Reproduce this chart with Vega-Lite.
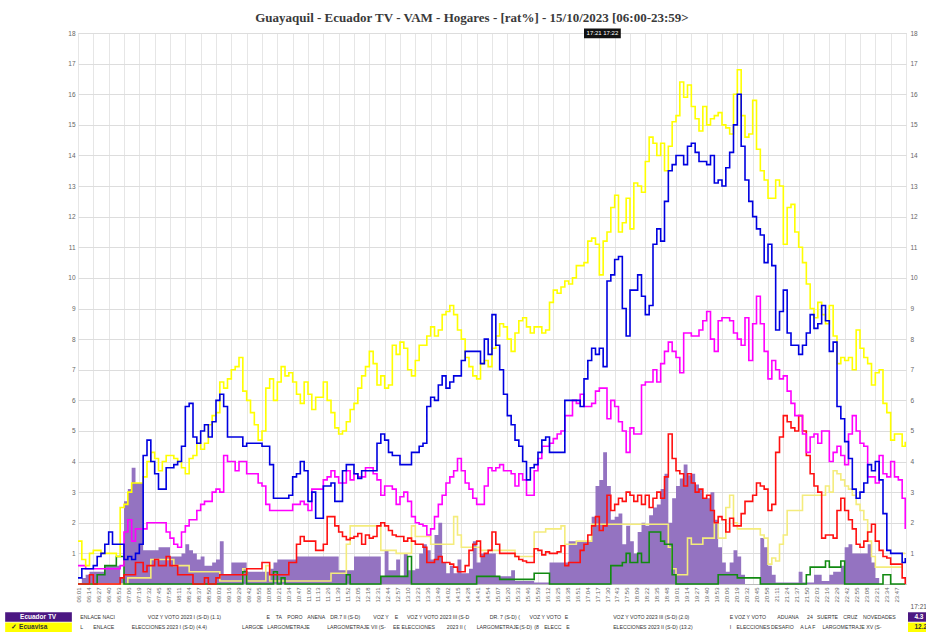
{
  "$schema": "https://vega.github.io/schema/vega-lite/v6.json",
  "width": 828,
  "height": 551,
  "autosize": {"type": "none"},
  "padding": {"left": 78, "top": 33, "right": 20, "bottom": 48},
  "background": "white",
  "title": {
    "text": "Guayaquil - Ecuador TV - VAM - Hogares - [rat%] - 15/10/2023 [06:00-23:59>",
    "font": "Liberation Serif",
    "fontSize": 13,
    "fontWeight": "bold",
    "color": "#3a3a3a",
    "anchor": "middle",
    "dx": -20,
    "offset": 3
  },
  "config": {
    "view": {"stroke": "#cfcfcf"},
    "font": "Liberation Sans"
  },
  "datasets": {
    "rating": [
      {"min":360,"Ecuavisa":1.4,"azul":0.2,"magenta":0.6,"rojo":0,"verde":0,"crema":0,"Ecuador TV":0},
      {"min":365,"Ecuavisa":0.8,"azul":0.5,"magenta":0.6,"rojo":0,"verde":0,"crema":0,"Ecuador TV":0.2},
      {"min":370,"Ecuavisa":0.6,"azul":0.5,"magenta":0.5,"rojo":0,"verde":0,"crema":0,"Ecuador TV":0.3},
      {"min":375,"Ecuavisa":1.0,"azul":0.5,"magenta":0.5,"rojo":0.3,"verde":0,"crema":0,"Ecuador TV":0.4},
      {"min":380,"Ecuavisa":1.1,"azul":0.6,"magenta":0.5,"rojo":0,"verde":0,"crema":0,"Ecuador TV":0.4},
      {"min":385,"Ecuavisa":1.1,"azul":0.9,"magenta":0.5,"rojo":0,"verde":0.3,"crema":0,"Ecuador TV":0.4},
      {"min":390,"Ecuavisa":1.0,"azul":1.0,"magenta":0.5,"rojo":0,"verde":0.3,"crema":0,"Ecuador TV":0.4},
      {"min":395,"Ecuavisa":1.0,"azul":1.3,"magenta":0.5,"rojo":0,"verde":0.6,"crema":0,"Ecuador TV":0.6},
      {"min":400,"Ecuavisa":1.0,"azul":1.7,"magenta":0.5,"rojo":0,"verde":0.6,"crema":0,"Ecuador TV":0.6},
      {"min":405,"Ecuavisa":1.0,"azul":1.3,"magenta":0.5,"rojo":0,"verde":0.6,"crema":0,"Ecuador TV":0.6},
      {"min":410,"Ecuavisa":0.9,"azul":1.3,"magenta":0.5,"rojo":0,"verde":0.9,"crema":0,"Ecuador TV":0.6},
      {"min":415,"Ecuavisa":2.5,"azul":1.3,"magenta":0.6,"rojo":0.2,"verde":0.9,"crema":0,"Ecuador TV":0.2},
      {"min":420,"Ecuavisa":2.6,"azul":0.8,"magenta":1.7,"rojo":0.3,"verde":0,"crema":0,"Ecuador TV":2.7},
      {"min":425,"Ecuavisa":3.0,"azul":0.9,"magenta":2.1,"rojo":0.3,"verde":0,"crema":0.2,"Ecuador TV":3.1},
      {"min":430,"Ecuavisa":3.3,"azul":0.8,"magenta":1.4,"rojo":0.3,"verde":0,"crema":0.2,"Ecuador TV":3.8},
      {"min":435,"Ecuavisa":3.3,"azul":1.0,"magenta":1.8,"rojo":0.7,"verde":0,"crema":0.2,"Ecuador TV":3.3},
      {"min":440,"Ecuavisa":3.3,"azul":1.3,"magenta":1.8,"rojo":0.7,"verde":0,"crema":0.2,"Ecuador TV":3.3},
      {"min":445,"Ecuavisa":3.5,"azul":4.2,"magenta":1.8,"rojo":0.4,"verde":0,"crema":0.2,"Ecuador TV":1.1},
      {"min":450,"Ecuavisa":4.0,"azul":4.7,"magenta":2.0,"rojo":0.6,"verde":0,"crema":0.2,"Ecuador TV":1.1},
      {"min":455,"Ecuavisa":4.3,"azul":4.0,"magenta":2.0,"rojo":0.6,"verde":0,"crema":0.8,"Ecuador TV":1.1},
      {"min":460,"Ecuavisa":4.1,"azul":3.6,"magenta":2.0,"rojo":0.8,"verde":0,"crema":0.8,"Ecuador TV":1.1},
      {"min":465,"Ecuavisa":3.7,"azul":3.1,"magenta":2.0,"rojo":0.6,"verde":0,"crema":0.8,"Ecuador TV":1.2},
      {"min":470,"Ecuavisa":4.0,"azul":3.1,"magenta":2.0,"rojo":0.6,"verde":0,"crema":0.8,"Ecuador TV":1.2},
      {"min":475,"Ecuavisa":4.2,"azul":3.8,"magenta":1.7,"rojo":0.9,"verde":0,"crema":0.8,"Ecuador TV":1.2},
      {"min":480,"Ecuavisa":4.2,"azul":3.8,"magenta":1.5,"rojo":0.6,"verde":0,"crema":0.8,"Ecuador TV":0.9},
      {"min":485,"Ecuavisa":4.1,"azul":3.9,"magenta":1.3,"rojo":0.6,"verde":0,"crema":0.6,"Ecuador TV":0.9},
      {"min":490,"Ecuavisa":4.0,"azul":4.0,"magenta":1.2,"rojo":0.3,"verde":0,"crema":0.6,"Ecuador TV":0.9},
      {"min":495,"Ecuavisa":3.8,"azul":4.5,"magenta":1.7,"rojo":0.3,"verde":0,"crema":0.6,"Ecuador TV":1.0},
      {"min":500,"Ecuavisa":3.6,"azul":5.8,"magenta":1.9,"rojo":0.3,"verde":0,"crema":0.6,"Ecuador TV":1.3},
      {"min":505,"Ecuavisa":4.1,"azul":5.9,"magenta":2.1,"rojo":0.3,"verde":0,"crema":0.4,"Ecuador TV":1.1},
      {"min":510,"Ecuavisa":4.2,"azul":4.8,"magenta":2.1,"rojo":0,"verde":0,"crema":0.4,"Ecuador TV":1.0},
      {"min":515,"Ecuavisa":4.6,"azul":4.6,"magenta":2.4,"rojo":0,"verde":0,"crema":0.4,"Ecuador TV":0.8},
      {"min":520,"Ecuavisa":4.4,"azul":5.0,"magenta":2.6,"rojo":0,"verde":0,"crema":0.4,"Ecuador TV":0.9},
      {"min":525,"Ecuavisa":4.6,"azul":5.2,"magenta":2.7,"rojo":0.2,"verde":0,"crema":0.4,"Ecuador TV":0.6},
      {"min":530,"Ecuavisa":5.2,"azul":4.8,"magenta":2.7,"rojo":0,"verde":0,"crema":0.4,"Ecuador TV":0.6},
      {"min":535,"Ecuavisa":5.5,"azul":5.3,"magenta":3.0,"rojo":0,"verde":0,"crema":0.4,"Ecuador TV":0.7},
      {"min":540,"Ecuavisa":5.6,"azul":6.0,"magenta":3.1,"rojo":0.2,"verde":0,"crema":0.4,"Ecuador TV":0.8},
      {"min":545,"Ecuavisa":6.6,"azul":6.2,"magenta":3.0,"rojo":0.3,"verde":0,"crema":0.1,"Ecuador TV":1.4},
      {"min":550,"Ecuavisa":6.4,"azul":5.8,"magenta":4.2,"rojo":0.3,"verde":0,"crema":0.1,"Ecuador TV":0.3},
      {"min":555,"Ecuavisa":6.7,"azul":4.8,"magenta":4.0,"rojo":0.3,"verde":0,"crema":0.1,"Ecuador TV":0.3},
      {"min":560,"Ecuavisa":7.0,"azul":4.8,"magenta":4.0,"rojo":0.3,"verde":0,"crema":0.1,"Ecuador TV":0.7},
      {"min":565,"Ecuavisa":7.1,"azul":4.8,"magenta":3.7,"rojo":0.3,"verde":0,"crema":0.1,"Ecuador TV":0.7},
      {"min":570,"Ecuavisa":7.4,"azul":4.8,"magenta":4.0,"rojo":0.3,"verde":0,"crema":0.1,"Ecuador TV":0.7},
      {"min":575,"Ecuavisa":6.3,"azul":4.5,"magenta":4.0,"rojo":0.3,"verde":0.4,"crema":0.5,"Ecuador TV":0.7},
      {"min":580,"Ecuavisa":6.0,"azul":4.6,"magenta":3.6,"rojo":0.5,"verde":0,"crema":0.1,"Ecuador TV":0.4},
      {"min":585,"Ecuavisa":5.6,"azul":4.6,"magenta":3.6,"rojo":0.5,"verde":0,"crema":0.1,"Ecuador TV":0.4},
      {"min":590,"Ecuavisa":5.2,"azul":4.6,"magenta":3.6,"rojo":0.5,"verde":0,"crema":0.1,"Ecuador TV":0.4},
      {"min":595,"Ecuavisa":4.7,"azul":4.6,"magenta":3.3,"rojo":0.5,"verde":0,"crema":0.1,"Ecuador TV":0.4},
      {"min":600,"Ecuavisa":5.0,"azul":4.5,"magenta":3.2,"rojo":0.7,"verde":0,"crema":0.1,"Ecuador TV":0.4},
      {"min":605,"Ecuavisa":6.4,"azul":4.5,"magenta":2.6,"rojo":0.7,"verde":0,"crema":0.6,"Ecuador TV":0.4},
      {"min":610,"Ecuavisa":6.7,"azul":3.9,"magenta":2.4,"rojo":0.3,"verde":0,"crema":0.1,"Ecuador TV":0.5},
      {"min":615,"Ecuavisa":6.0,"azul":2.8,"magenta":2.4,"rojo":0.3,"verde":0.4,"crema":0.1,"Ecuador TV":0.7},
      {"min":620,"Ecuavisa":6.6,"azul":2.8,"magenta":2.4,"rojo":0.3,"verde":0,"crema":0.1,"Ecuador TV":0.8},
      {"min":625,"Ecuavisa":7.1,"azul":2.8,"magenta":2.4,"rojo":0.3,"verde":0.2,"crema":0.1,"Ecuador TV":0.8},
      {"min":630,"Ecuavisa":6.8,"azul":2.8,"magenta":2.4,"rojo":0.3,"verde":0,"crema":0.1,"Ecuador TV":0.8},
      {"min":635,"Ecuavisa":6.9,"azul":2.9,"magenta":2.4,"rojo":0.7,"verde":0,"crema":0.1,"Ecuador TV":0.8},
      {"min":640,"Ecuavisa":6.6,"azul":3.5,"magenta":2.6,"rojo":0.7,"verde":0,"crema":0.1,"Ecuador TV":0.8},
      {"min":645,"Ecuavisa":6.2,"azul":3.6,"magenta":2.6,"rojo":1.3,"verde":0,"crema":0.1,"Ecuador TV":0.9},
      {"min":650,"Ecuavisa":5.9,"azul":4.0,"magenta":2.7,"rojo":1.55,"verde":0,"crema":0.1,"Ecuador TV":0.9},
      {"min":655,"Ecuavisa":6.6,"azul":3.7,"magenta":2.6,"rojo":1.4,"verde":0,"crema":0.1,"Ecuador TV":0.9},
      {"min":660,"Ecuavisa":6.2,"azul":2.7,"magenta":2.4,"rojo":1.4,"verde":0,"crema":0.1,"Ecuador TV":0.9},
      {"min":665,"Ecuavisa":5.7,"azul":3.0,"magenta":3.1,"rojo":1.4,"verde":0,"crema":0.1,"Ecuador TV":0.9},
      {"min":670,"Ecuavisa":6.1,"azul":2.15,"magenta":3.1,"rojo":1.1,"verde":0,"crema":0.1,"Ecuador TV":0.9},
      {"min":675,"Ecuavisa":6.1,"azul":2.15,"magenta":3.1,"rojo":1.1,"verde":0,"crema":0.1,"Ecuador TV":0.9},
      {"min":680,"Ecuavisa":6.6,"azul":3.2,"magenta":3.4,"rojo":1.3,"verde":0,"crema":0.1,"Ecuador TV":0.9},
      {"min":685,"Ecuavisa":6.0,"azul":3.2,"magenta":3.5,"rojo":2.2,"verde":0,"crema":0.1,"Ecuador TV":0.9},
      {"min":690,"Ecuavisa":5.6,"azul":3.3,"magenta":3.7,"rojo":2.2,"verde":0,"crema":0.35,"Ecuador TV":0.9},
      {"min":695,"Ecuavisa":5.1,"azul":2.7,"magenta":3.5,"rojo":1.9,"verde":0,"crema":0.35,"Ecuador TV":0.9},
      {"min":700,"Ecuavisa":4.9,"azul":2.7,"magenta":3.3,"rojo":1.7,"verde":0,"crema":0.35,"Ecuador TV":0.45},
      {"min":705,"Ecuavisa":5.0,"azul":3.7,"magenta":3.3,"rojo":1.55,"verde":0,"crema":0.35,"Ecuador TV":0.45},
      {"min":710,"Ecuavisa":5.3,"azul":3.9,"magenta":3.7,"rojo":1.45,"verde":0.3,"crema":1.3,"Ecuador TV":0.45},
      {"min":715,"Ecuavisa":5.7,"azul":3.9,"magenta":3.4,"rojo":1.5,"verde":0,"crema":1.9,"Ecuador TV":0.45},
      {"min":720,"Ecuavisa":5.9,"azul":3.6,"magenta":3.6,"rojo":1.55,"verde":0,"crema":1.9,"Ecuador TV":0.9},
      {"min":725,"Ecuavisa":6.4,"azul":3.45,"magenta":3.5,"rojo":1.65,"verde":0,"crema":1.9,"Ecuador TV":0.9},
      {"min":730,"Ecuavisa":6.8,"azul":3.7,"magenta":3.5,"rojo":1.3,"verde":0,"crema":1.9,"Ecuador TV":0.9},
      {"min":735,"Ecuavisa":7.1,"azul":3.7,"magenta":3.8,"rojo":1.6,"verde":0,"crema":1.9,"Ecuador TV":0.9},
      {"min":740,"Ecuavisa":7.6,"azul":3.7,"magenta":3.8,"rojo":1.5,"verde":0,"crema":1.9,"Ecuador TV":0.9},
      {"min":745,"Ecuavisa":7.2,"azul":3.7,"magenta":3.6,"rojo":1.55,"verde":0,"crema":1.9,"Ecuador TV":0.9},
      {"min":750,"Ecuavisa":6.5,"azul":4.6,"magenta":3.4,"rojo":1.9,"verde":0,"crema":1.9,"Ecuador TV":0.9},
      {"min":755,"Ecuavisa":6.8,"azul":4.9,"magenta":2.9,"rojo":2.0,"verde":0.25,"crema":1.1,"Ecuador TV":0.25},
      {"min":760,"Ecuavisa":6.4,"azul":4.7,"magenta":3.2,"rojo":1.9,"verde":0.25,"crema":1.1,"Ecuador TV":1.1},
      {"min":765,"Ecuavisa":6.5,"azul":4.3,"magenta":3.2,"rojo":1.75,"verde":0.25,"crema":1.1,"Ecuador TV":0.45},
      {"min":770,"Ecuavisa":7.8,"azul":4.2,"magenta":3.1,"rojo":1.6,"verde":0.25,"crema":1.1,"Ecuador TV":0.45},
      {"min":775,"Ecuavisa":7.5,"azul":4.2,"magenta":2.6,"rojo":1.55,"verde":0.25,"crema":1.0,"Ecuador TV":0.8},
      {"min":780,"Ecuavisa":7.9,"azul":3.9,"magenta":2.85,"rojo":1.55,"verde":0.25,"crema":1.0,"Ecuador TV":0.25},
      {"min":785,"Ecuavisa":7.7,"azul":3.9,"magenta":3.0,"rojo":1.4,"verde":0.25,"crema":1.0,"Ecuador TV":1.0},
      {"min":790,"Ecuavisa":7.0,"azul":3.9,"magenta":2.7,"rojo":1.5,"verde":0.9,"crema":1.0,"Ecuador TV":0.45},
      {"min":795,"Ecuavisa":6.8,"azul":4.3,"magenta":2.2,"rojo":1.4,"verde":0,"crema":1.9,"Ecuador TV":0.45},
      {"min":800,"Ecuavisa":7.3,"azul":4.3,"magenta":2.0,"rojo":1.3,"verde":0,"crema":1.55,"Ecuador TV":0.5},
      {"min":805,"Ecuavisa":7.8,"azul":4.5,"magenta":1.95,"rojo":1.3,"verde":0,"crema":1.55,"Ecuador TV":1.0},
      {"min":810,"Ecuavisa":7.8,"azul":4.6,"magenta":1.9,"rojo":1.2,"verde":0,"crema":1.55,"Ecuador TV":1.3},
      {"min":815,"Ecuavisa":8.1,"azul":5.8,"magenta":1.6,"rojo":0.7,"verde":0,"crema":1.55,"Ecuador TV":1.1},
      {"min":820,"Ecuavisa":8.4,"azul":6.1,"magenta":1.8,"rojo":0.7,"verde":0,"crema":1.3,"Ecuador TV":0.8},
      {"min":825,"Ecuavisa":8.1,"azul":6.0,"magenta":2.2,"rojo":0.8,"verde":0,"crema":1.3,"Ecuador TV":1.6},
      {"min":830,"Ecuavisa":8.3,"azul":6.5,"magenta":2.6,"rojo":0.9,"verde":0,"crema":1.3,"Ecuador TV":2.0},
      {"min":835,"Ecuavisa":8.8,"azul":6.8,"magenta":2.9,"rojo":0.7,"verde":0,"crema":1.3,"Ecuador TV":0.7},
      {"min":840,"Ecuavisa":8.9,"azul":6.4,"magenta":3.3,"rojo":0.7,"verde":0,"crema":1.3,"Ecuador TV":0.35},
      {"min":845,"Ecuavisa":9.1,"azul":6.6,"magenta":3.5,"rojo":0.65,"verde":0,"crema":1.3,"Ecuador TV":0.6},
      {"min":850,"Ecuavisa":8.8,"azul":6.8,"magenta":3.7,"rojo":0.55,"verde":0,"crema":2.2,"Ecuador TV":0.35},
      {"min":855,"Ecuavisa":8.3,"azul":6.8,"magenta":4.1,"rojo":0.4,"verde":0,"crema":1.6,"Ecuador TV":0.8},
      {"min":860,"Ecuavisa":8.0,"azul":7.3,"magenta":3.7,"rojo":0.4,"verde":0,"crema":1.2,"Ecuador TV":0.35},
      {"min":865,"Ecuavisa":7.4,"azul":7.6,"magenta":3.3,"rojo":0.6,"verde":0,"crema":1.2,"Ecuador TV":0.35},
      {"min":870,"Ecuavisa":7.1,"azul":7.6,"magenta":3.1,"rojo":1.1,"verde":0,"crema":1.2,"Ecuador TV":0.5},
      {"min":875,"Ecuavisa":6.8,"azul":7.6,"magenta":2.8,"rojo":1.3,"verde":0,"crema":1.2,"Ecuador TV":1.4},
      {"min":880,"Ecuavisa":6.7,"azul":7.6,"magenta":2.6,"rojo":1.4,"verde":0.25,"crema":1.2,"Ecuador TV":0.7},
      {"min":885,"Ecuavisa":7.2,"azul":7.2,"magenta":2.6,"rojo":0.9,"verde":0.25,"crema":1.1,"Ecuador TV":1.0},
      {"min":890,"Ecuavisa":7.3,"azul":8.0,"magenta":3.2,"rojo":1.0,"verde":0.25,"crema":1.1,"Ecuador TV":1.0},
      {"min":895,"Ecuavisa":7.1,"azul":7.5,"magenta":3.8,"rojo":1.1,"verde":0.25,"crema":1.1,"Ecuador TV":1.0},
      {"min":900,"Ecuavisa":7.7,"azul":8.8,"magenta":3.7,"rojo":1.7,"verde":0.25,"crema":1.1,"Ecuador TV":1.0},
      {"min":905,"Ecuavisa":8.1,"azul":7.8,"magenta":3.8,"rojo":1.3,"verde":0.25,"crema":1.1,"Ecuador TV":0.25},
      {"min":910,"Ecuavisa":8.5,"azul":7.0,"magenta":3.9,"rojo":1.0,"verde":0.15,"crema":1.1,"Ecuador TV":0.25},
      {"min":915,"Ecuavisa":8.4,"azul":6.2,"magenta":3.7,"rojo":1.0,"verde":0.15,"crema":1.1,"Ecuador TV":0.25},
      {"min":920,"Ecuavisa":8.0,"azul":5.5,"magenta":3.7,"rojo":1.0,"verde":0.15,"crema":1.1,"Ecuador TV":0.25},
      {"min":925,"Ecuavisa":7.6,"azul":5.2,"magenta":3.6,"rojo":1.0,"verde":0.15,"crema":1.1,"Ecuador TV":0.45},
      {"min":930,"Ecuavisa":8.2,"azul":4.7,"magenta":3.2,"rojo":0.9,"verde":0.15,"crema":0.9,"Ecuador TV":0.1},
      {"min":935,"Ecuavisa":8.6,"azul":4.5,"magenta":3.6,"rojo":0.8,"verde":0.15,"crema":0.9,"Ecuador TV":0.1},
      {"min":940,"Ecuavisa":8.7,"azul":4.0,"magenta":3.4,"rojo":0.75,"verde":0.15,"crema":0.9,"Ecuador TV":0.1},
      {"min":945,"Ecuavisa":8.4,"azul":3.4,"magenta":2.9,"rojo":0.7,"verde":0.15,"crema":0.9,"Ecuador TV":0.1},
      {"min":950,"Ecuavisa":8.2,"azul":3.8,"magenta":2.9,"rojo":0.7,"verde":0.15,"crema":0.9,"Ecuador TV":0.1},
      {"min":955,"Ecuavisa":8.4,"azul":3.9,"magenta":3.7,"rojo":1.15,"verde":0.35,"crema":1.7,"Ecuador TV":0.05},
      {"min":960,"Ecuavisa":8.4,"azul":4.3,"magenta":4.1,"rojo":1.1,"verde":0.35,"crema":1.7,"Ecuador TV":0.05},
      {"min":965,"Ecuavisa":8.2,"azul":4.7,"magenta":4.5,"rojo":0.95,"verde":0.35,"crema":1.7,"Ecuador TV":0.05},
      {"min":970,"Ecuavisa":8.3,"azul":4.8,"magenta":4.5,"rojo":1.05,"verde":0.35,"crema":1.8,"Ecuador TV":0.05},
      {"min":975,"Ecuavisa":9.2,"azul":4.3,"magenta":4.6,"rojo":1.0,"verde":0,"crema":1.8,"Ecuador TV":0.7},
      {"min":980,"Ecuavisa":9.6,"azul":4.3,"magenta":4.75,"rojo":1.0,"verde":0,"crema":1.8,"Ecuador TV":0.7},
      {"min":985,"Ecuavisa":9.5,"azul":4.3,"magenta":4.9,"rojo":1.05,"verde":0,"crema":1.8,"Ecuador TV":0.7},
      {"min":990,"Ecuavisa":9.7,"azul":4.3,"magenta":5.0,"rojo":1.25,"verde":0,"crema":1.9,"Ecuador TV":0.7},
      {"min":995,"Ecuavisa":9.9,"azul":6.0,"magenta":5.5,"rojo":0.6,"verde":0,"crema":1.3,"Ecuador TV":0.7},
      {"min":1000,"Ecuavisa":9.8,"azul":6.0,"magenta":5.5,"rojo":0.7,"verde":0,"crema":1.3,"Ecuador TV":1.4},
      {"min":1005,"Ecuavisa":10.0,"azul":6.0,"magenta":6.0,"rojo":0.7,"verde":0,"crema":1.3,"Ecuador TV":1.4},
      {"min":1010,"Ecuavisa":10.4,"azul":6.0,"magenta":5.9,"rojo":0.7,"verde":0,"crema":1.4,"Ecuador TV":1.4},
      {"min":1015,"Ecuavisa":10.4,"azul":5.8,"magenta":6.2,"rojo":1.1,"verde":0,"crema":1.4,"Ecuador TV":1.4},
      {"min":1020,"Ecuavisa":10.5,"azul":6.7,"magenta":5.8,"rojo":1.3,"verde":0,"crema":1.4,"Ecuador TV":1.4},
      {"min":1025,"Ecuavisa":11.2,"azul":7.3,"magenta":5.8,"rojo":1.6,"verde":0,"crema":1.4,"Ecuador TV":1.4},
      {"min":1030,"Ecuavisa":11.3,"azul":7.7,"magenta":5.9,"rojo":1.9,"verde":0,"crema":1.95,"Ecuador TV":2.2},
      {"min":1035,"Ecuavisa":11.1,"azul":7.5,"magenta":6.3,"rojo":2.2,"verde":0,"crema":1.95,"Ecuador TV":3.2},
      {"min":1040,"Ecuavisa":10.1,"azul":7.7,"magenta":6.4,"rojo":1.75,"verde":0,"crema":1.95,"Ecuador TV":3.4},
      {"min":1045,"Ecuavisa":11.2,"azul":7.1,"magenta":6.4,"rojo":1.9,"verde":0,"crema":1.95,"Ecuador TV":4.3},
      {"min":1050,"Ecuavisa":11.5,"azul":9.9,"magenta":5.4,"rojo":2.9,"verde":0,"crema":1.95,"Ecuador TV":3.2},
      {"min":1055,"Ecuavisa":12.3,"azul":10.1,"magenta":6.0,"rojo":2.4,"verde":0.6,"crema":1.95,"Ecuador TV":2.1},
      {"min":1060,"Ecuavisa":12.7,"azul":10.6,"magenta":5.8,"rojo":2.6,"verde":0.6,"crema":1.95,"Ecuador TV":2.2},
      {"min":1065,"Ecuavisa":11.5,"azul":10.7,"magenta":5.3,"rojo":2.8,"verde":0.6,"crema":1.95,"Ecuador TV":2.3},
      {"min":1070,"Ecuavisa":11.8,"azul":9.0,"magenta":5.0,"rojo":2.7,"verde":0.7,"crema":1.95,"Ecuador TV":1.3},
      {"min":1075,"Ecuavisa":12.6,"azul":8.1,"magenta":4.3,"rojo":3.0,"verde":1.0,"crema":1.95,"Ecuador TV":1.9},
      {"min":1080,"Ecuavisa":11.6,"azul":9.6,"magenta":5.1,"rojo":2.9,"verde":0.7,"crema":1.95,"Ecuador TV":1.4},
      {"min":1085,"Ecuavisa":13.1,"azul":9.6,"magenta":4.9,"rojo":2.7,"verde":0.7,"crema":1.95,"Ecuador TV":1.0},
      {"min":1090,"Ecuavisa":13.0,"azul":10.1,"magenta":4.9,"rojo":2.9,"verde":1.0,"crema":1.95,"Ecuador TV":1.7},
      {"min":1095,"Ecuavisa":12.8,"azul":9.4,"magenta":6.5,"rojo":2.6,"verde":0.7,"crema":1.95,"Ecuador TV":2.0},
      {"min":1100,"Ecuavisa":13.8,"azul":8.8,"magenta":6.6,"rojo":2.9,"verde":0.7,"crema":1.95,"Ecuador TV":1.9},
      {"min":1105,"Ecuavisa":14.6,"azul":9.1,"magenta":6.6,"rojo":2.5,"verde":1.7,"crema":1.95,"Ecuador TV":2.25},
      {"min":1110,"Ecuavisa":14.4,"azul":11.1,"magenta":7.0,"rojo":2.8,"verde":1.7,"crema":1.95,"Ecuador TV":2.5},
      {"min":1115,"Ecuavisa":14.0,"azul":11.6,"magenta":6.6,"rojo":3.0,"verde":1.7,"crema":1.95,"Ecuador TV":2.6},
      {"min":1120,"Ecuavisa":14.4,"azul":11.2,"magenta":7.2,"rojo":2.8,"verde":1.4,"crema":1.95,"Ecuador TV":3.1},
      {"min":1125,"Ecuavisa":13.5,"azul":12.5,"magenta":7.6,"rojo":3.5,"verde":1.3,"crema":1.95,"Ecuador TV":3.6},
      {"min":1130,"Ecuavisa":14.3,"azul":13.5,"magenta":7.9,"rojo":4.9,"verde":1.3,"crema":1.2,"Ecuador TV":2.0},
      {"min":1135,"Ecuavisa":15.1,"azul":13.7,"magenta":7.6,"rojo":4.1,"verde":0.3,"crema":0.5,"Ecuador TV":2.8},
      {"min":1140,"Ecuavisa":15.3,"azul":14.0,"magenta":7.4,"rojo":3.7,"verde":0,"crema":0.3,"Ecuador TV":3.2},
      {"min":1145,"Ecuavisa":16.4,"azul":14.0,"magenta":6.9,"rojo":3.6,"verde":0,"crema":0.3,"Ecuador TV":3.45},
      {"min":1150,"Ecuavisa":15.9,"azul":13.7,"magenta":8.2,"rojo":3.2,"verde":0,"crema":0.3,"Ecuador TV":3.9},
      {"min":1155,"Ecuavisa":16.3,"azul":14.3,"magenta":8.2,"rojo":3.6,"verde":0,"crema":1.5,"Ecuador TV":3.55},
      {"min":1160,"Ecuavisa":15.6,"azul":14.4,"magenta":8.1,"rojo":3.3,"verde":0,"crema":1.3,"Ecuador TV":3.6},
      {"min":1165,"Ecuavisa":15.2,"azul":14.1,"magenta":8.1,"rojo":3.0,"verde":0,"crema":1.3,"Ecuador TV":3.25},
      {"min":1170,"Ecuavisa":14.8,"azul":13.8,"magenta":8.3,"rojo":3.1,"verde":0,"crema":1.3,"Ecuador TV":3.1},
      {"min":1175,"Ecuavisa":15.6,"azul":13.8,"magenta":8.6,"rojo":2.8,"verde":0,"crema":1.5,"Ecuador TV":2.8},
      {"min":1180,"Ecuavisa":15.0,"azul":13.7,"magenta":8.9,"rojo":2.9,"verde":0,"crema":1.5,"Ecuador TV":2.8},
      {"min":1185,"Ecuavisa":15.2,"azul":14.0,"magenta":8.0,"rojo":2.4,"verde":0,"crema":1.5,"Ecuador TV":3.0},
      {"min":1190,"Ecuavisa":15.3,"azul":13.1,"magenta":7.6,"rojo":2.0,"verde":0,"crema":2.0,"Ecuador TV":2.1},
      {"min":1195,"Ecuavisa":15.4,"azul":13.2,"magenta":8.6,"rojo":2.2,"verde":0.3,"crema":1.5,"Ecuador TV":1.2},
      {"min":1200,"Ecuavisa":15.0,"azul":13.0,"magenta":8.7,"rojo":2.1,"verde":0.3,"crema":1.5,"Ecuador TV":0.7},
      {"min":1205,"Ecuavisa":14.9,"azul":13.6,"magenta":8.7,"rojo":1.7,"verde":0.3,"crema":2.5,"Ecuador TV":0.4},
      {"min":1210,"Ecuavisa":14.7,"azul":14.1,"magenta":8.6,"rojo":2.15,"verde":0.3,"crema":2.9,"Ecuador TV":0.7},
      {"min":1215,"Ecuavisa":16.0,"azul":15.0,"magenta":8.2,"rojo":1.9,"verde":0.3,"crema":2.0,"Ecuador TV":1.1},
      {"min":1220,"Ecuavisa":16.8,"azul":16.0,"magenta":8.0,"rojo":1.9,"verde":0.2,"crema":1.8,"Ecuador TV":0.9},
      {"min":1225,"Ecuavisa":15.3,"azul":14.3,"magenta":7.8,"rojo":2.3,"verde":0.2,"crema":1.8,"Ecuador TV":0.3},
      {"min":1230,"Ecuavisa":14.6,"azul":13.2,"magenta":8.7,"rojo":2.7,"verde":0.2,"crema":1.8,"Ecuador TV":0},
      {"min":1235,"Ecuavisa":14.7,"azul":12.5,"magenta":7.3,"rojo":2.7,"verde":0.2,"crema":1.8,"Ecuador TV":0},
      {"min":1240,"Ecuavisa":15.8,"azul":12.0,"magenta":8.5,"rojo":2.9,"verde":0.2,"crema":1.8,"Ecuador TV":0},
      {"min":1245,"Ecuavisa":14.2,"azul":11.6,"magenta":9.4,"rojo":3.3,"verde":0.2,"crema":1.8,"Ecuador TV":0},
      {"min":1250,"Ecuavisa":13.5,"azul":11.4,"magenta":8.5,"rojo":3.2,"verde":0,"crema":1.6,"Ecuador TV":1.5},
      {"min":1255,"Ecuavisa":13.2,"azul":10.5,"magenta":7.6,"rojo":3.1,"verde":0,"crema":1.5,"Ecuador TV":1.2},
      {"min":1260,"Ecuavisa":12.6,"azul":11.1,"magenta":6.7,"rojo":2.4,"verde":0,"crema":0.65,"Ecuador TV":0.6},
      {"min":1265,"Ecuavisa":12.6,"azul":10.4,"magenta":7.3,"rojo":2.6,"verde":0,"crema":0.85,"Ecuador TV":0.3},
      {"min":1270,"Ecuavisa":13.2,"azul":8.3,"magenta":7.0,"rojo":4.3,"verde":0,"crema":0.75,"Ecuador TV":0.05},
      {"min":1275,"Ecuavisa":13.0,"azul":8.9,"magenta":6.7,"rojo":4.8,"verde":0,"crema":1.3,"Ecuador TV":0.05},
      {"min":1280,"Ecuavisa":11.1,"azul":9.6,"magenta":6.8,"rojo":5.5,"verde":0,"crema":1.6,"Ecuador TV":0.05},
      {"min":1285,"Ecuavisa":12.3,"azul":8.2,"magenta":6.3,"rojo":5.3,"verde":0,"crema":2.4,"Ecuador TV":0.05},
      {"min":1290,"Ecuavisa":12.4,"azul":7.8,"magenta":5.9,"rojo":5.1,"verde":0,"crema":2.4,"Ecuador TV":0.05},
      {"min":1295,"Ecuavisa":11.5,"azul":7.8,"magenta":5.5,"rojo":5.0,"verde":0,"crema":2.4,"Ecuador TV":0.05},
      {"min":1300,"Ecuavisa":11.0,"azul":7.5,"magenta":5.5,"rojo":5.5,"verde":0,"crema":2.4,"Ecuador TV":0.4},
      {"min":1305,"Ecuavisa":10.5,"azul":7.8,"magenta":4.9,"rojo":5.0,"verde":0,"crema":2.9,"Ecuador TV":0.05},
      {"min":1310,"Ecuavisa":9.8,"azul":8.2,"magenta":4.3,"rojo":4.2,"verde":0.3,"crema":2.9,"Ecuador TV":0.05},
      {"min":1315,"Ecuavisa":9.0,"azul":8.8,"magenta":4.8,"rojo":3.6,"verde":0.55,"crema":2.9,"Ecuador TV":0.05},
      {"min":1320,"Ecuavisa":8.7,"azul":8.35,"magenta":4.9,"rojo":3.2,"verde":0.55,"crema":2.9,"Ecuador TV":0.3},
      {"min":1325,"Ecuavisa":9.2,"azul":8.5,"magenta":4.6,"rojo":3.0,"verde":0.55,"crema":2.9,"Ecuador TV":0.3},
      {"min":1330,"Ecuavisa":8.8,"azul":9.1,"magenta":5.0,"rojo":1.5,"verde":0.55,"crema":2.9,"Ecuador TV":0.1},
      {"min":1335,"Ecuavisa":8.5,"azul":8.6,"magenta":5.0,"rojo":1.6,"verde":0.75,"crema":3.2,"Ecuador TV":0.1},
      {"min":1340,"Ecuavisa":9.1,"azul":7.6,"magenta":4.0,"rojo":1.6,"verde":0.55,"crema":3.0,"Ecuador TV":0.3},
      {"min":1345,"Ecuavisa":8.1,"azul":7.9,"magenta":4.3,"rojo":1.5,"verde":0.55,"crema":3.7,"Ecuador TV":0.4},
      {"min":1350,"Ecuavisa":7.2,"azul":5.8,"magenta":4.5,"rojo":2.4,"verde":0.55,"crema":3.6,"Ecuador TV":0.4},
      {"min":1355,"Ecuavisa":7.4,"azul":5.4,"magenta":4.2,"rojo":2.8,"verde":0.75,"crema":3.4,"Ecuador TV":0.6},
      {"min":1360,"Ecuavisa":7.3,"azul":4.65,"magenta":3.9,"rojo":2.4,"verde":0,"crema":3.2,"Ecuador TV":1.2},
      {"min":1365,"Ecuavisa":7.4,"azul":4.1,"magenta":4.9,"rojo":2.1,"verde":0,"crema":3.1,"Ecuador TV":1.3},
      {"min":1370,"Ecuavisa":7.0,"azul":3.1,"magenta":5.5,"rojo":1.8,"verde":0,"crema":2.9,"Ecuador TV":1.0},
      {"min":1375,"Ecuavisa":8.3,"azul":2.8,"magenta":5.0,"rojo":1.3,"verde":0,"crema":2.6,"Ecuador TV":1.0},
      {"min":1380,"Ecuavisa":7.7,"azul":3.0,"magenta":4.6,"rojo":1.2,"verde":0,"crema":2.4,"Ecuador TV":1.0},
      {"min":1385,"Ecuavisa":7.4,"azul":3.3,"magenta":4.5,"rojo":1.4,"verde":0,"crema":2.1,"Ecuador TV":1.0},
      {"min":1390,"Ecuavisa":7.2,"azul":3.9,"magenta":3.5,"rojo":1.7,"verde":0,"crema":1.4,"Ecuador TV":1.3},
      {"min":1395,"Ecuavisa":6.5,"azul":3.7,"magenta":3.5,"rojo":1.95,"verde":0,"crema":0.9,"Ecuador TV":0.7},
      {"min":1400,"Ecuavisa":6.9,"azul":4.0,"magenta":3.3,"rojo":1.4,"verde":0,"crema":0.55,"Ecuador TV":0.2},
      {"min":1405,"Ecuavisa":7.0,"azul":3.4,"magenta":4.2,"rojo":1.1,"verde":0,"crema":0.55,"Ecuador TV":0},
      {"min":1410,"Ecuavisa":5.9,"azul":2.3,"magenta":3.6,"rojo":0.9,"verde":0.3,"crema":0.55,"Ecuador TV":0},
      {"min":1415,"Ecuavisa":5.6,"azul":1.1,"magenta":3.5,"rojo":0.85,"verde":0.3,"crema":0.55,"Ecuador TV":0},
      {"min":1420,"Ecuavisa":4.7,"azul":1.0,"magenta":4.0,"rojo":0.65,"verde":0,"crema":0.55,"Ecuador TV":0},
      {"min":1425,"Ecuavisa":4.9,"azul":1.0,"magenta":3.5,"rojo":0.65,"verde":0,"crema":0.55,"Ecuador TV":0},
      {"min":1430,"Ecuavisa":4.9,"azul":1.0,"magenta":3.4,"rojo":0.65,"verde":0,"crema":0.55,"Ecuador TV":0},
      {"min":1435,"Ecuavisa":4.5,"azul":0.7,"magenta":2.8,"rojo":0.2,"verde":0,"crema":1.0,"Ecuador TV":0},
      {"min":1439,"Ecuavisa":4.65,"azul":0.85,"magenta":1.8,"rojo":0,"verde":0,"crema":1.0,"Ecuador TV":0}
    ],
    "programas": [
      {"canal":"Ecuador TV","min":363,"texto":"ENLACE NACI"},
      {"canal":"Ecuador TV","min":451,"texto":"VOZ Y VOTO 2023 I (S-D) (1.1)"},
      {"canal":"Ecuador TV","min":606,"texto":"E"},
      {"canal":"Ecuador TV","min":618,"texto":"TA"},
      {"canal":"Ecuador TV","min":633,"texto":"PORO"},
      {"canal":"Ecuador TV","min":659,"texto":"ANENA"},
      {"canal":"Ecuador TV","min":689,"texto":"DR.7 II (S-D)"},
      {"canal":"Ecuador TV","min":745,"texto":"VOZ Y"},
      {"canal":"Ecuador TV","min":773,"texto":"E"},
      {"canal":"Ecuador TV","min":789,"texto":"VOZ Y VOTO 2023 III (S-D"},
      {"canal":"Ecuador TV","min":897,"texto":"DR. 7 (S-D) ("},
      {"canal":"Ecuador TV","min":949,"texto":"VOZ Y VOTO"},
      {"canal":"Ecuador TV","min":995,"texto":"E"},
      {"canal":"Ecuador TV","min":1058,"texto":"VOZ Y VOTO 2023 III (S-D) (2.0)"},
      {"canal":"Ecuador TV","min":1210,"texto":"E VOZ Y VOTO"},
      {"canal":"Ecuador TV","min":1272,"texto":"ADUANA"},
      {"canal":"Ecuador TV","min":1311,"texto":"24"},
      {"canal":"Ecuador TV","min":1324,"texto":"SUERTE"},
      {"canal":"Ecuador TV","min":1358,"texto":"CRUZ"},
      {"canal":"Ecuador TV","min":1384,"texto":"NOVEDADES"},
      {"canal":"Ecuavisa","min":363,"texto":"L"},
      {"canal":"Ecuavisa","min":380,"texto":"ENLACE"},
      {"canal":"Ecuavisa","min":430,"texto":"ELECCIONES 2023 I (S-D) (4.4)"},
      {"canal":"Ecuavisa","min":574,"texto":"LARGO"},
      {"canal":"Ecuavisa","min":597,"texto":"E"},
      {"canal":"Ecuavisa","min":607,"texto":"LARGOMETRAJE"},
      {"canal":"Ecuavisa","min":685,"texto":"LARGOMETRAJE VII (S-"},
      {"canal":"Ecuavisa","min":771,"texto":"EE ELECCIONES"},
      {"canal":"Ecuavisa","min":841,"texto":"2023  II ("},
      {"canal":"Ecuavisa","min":880,"texto":"LARGOMETRAJE"},
      {"canal":"Ecuavisa","min":936,"texto":"(S-D)"},
      {"canal":"Ecuavisa","min":955,"texto":"(8"},
      {"canal":"Ecuavisa","min":968,"texto":"ELECC"},
      {"canal":"Ecuavisa","min":997,"texto":"E"},
      {"canal":"Ecuavisa","min":1058,"texto":"ELECCIONES 2023 II (S-D) (13.2)"},
      {"canal":"Ecuavisa","min":1210,"texto":"I"},
      {"canal":"Ecuavisa","min":1219,"texto":"ELECCIONES"},
      {"canal":"Ecuavisa","min":1264,"texto":"DESAFIO"},
      {"canal":"Ecuavisa","min":1302,"texto":"A LA F"},
      {"canal":"Ecuavisa","min":1331,"texto":"LARGOMETRAJE XV (S-"}
    ],
    "canales": [
      {"canal":"Ecuador TV","etiqueta":"Ecuador TV","valor":"4.3"},
      {"canal":"Ecuavisa","etiqueta":"✓ Ecuavisa","valor":"12.2"}
    ]
  },
  "layer": [
    {
      "data": {"name": "rating"},
      "mark": {"type": "area", "interpolate": "step-after", "color": "#9473c1"},
      "encoding": {
        "x": {
          "field": "min", "type": "quantitative",
          "scale": {"domain": [360, 1440], "nice": false, "zero": false},
          "axis": {
            "orient": "bottom",
            "values": [361,374,387,400,413,426,439,452,465,478,491,504,517,530,543,556,569,582,595,608,621,634,647,660,673,686,699,712,725,738,751,764,777,790,803,816,829,842,855,868,881,894,907,920,933,946,959,972,985,998,1011,1024,1037,1050,1063,1076,1089,1102,1115,1128,1141,1154,1167,1180,1193,1206,1219,1232,1245,1258,1271,1284,1297,1310,1323,1336,1349,1362,1375,1388,1401,1414,1427],
            "labelExpr": "timeFormat(datetime(2023, 9, 15, floor(datum.value / 60), datum.value % 60), '%H:%M')",
            "labelAngle": 270,
            "labelAlign": "right",
            "labelBaseline": "middle",
            "labelFontSize": 6,
            "labelColor": "#666666",
            "labelPadding": 3,
            "labelOverlap": false,
            "labelFlush": false,
            "ticks": false,
            "grid": false,
            "domainColor": "#bbbbbb",
            "title": null
          }
        },
        "y": {
          "field": "Ecuador TV", "type": "quantitative",
          "scale": {"domain": [0, 18], "nice": false},
          "axis": {
            "orient": "left",
            "values": [0,1,2,3,4,5,6,7,8,9,10,11,12,13,14,15,16,17,18],
            "labelExpr": "datum.value == 0 ? '' : datum.label",
            "grid": true,
            "gridColor": "#dddddd",
            "labelFontSize": 6.5,
            "labelColor": "#666666",
            "labelPadding": 3,
            "ticks": false,
            "domain": false,
            "title": null
          }
        }
      }
    },
    {
      "data": {"name": "rating"},
      "transform": [{"fold": ["crema", "verde", "rojo", "magenta", "Ecuavisa", "azul"], "as": ["canal", "rating"]}],
      "mark": {"type": "line", "interpolate": "step-after", "strokeWidth": 1.6},
      "encoding": {
        "x": {
          "field": "min", "type": "quantitative",
          "scale": {"domain": [360, 1440], "nice": false, "zero": false},
          "axis": {
            "orient": "top",
            "values": [360,380,400,420,440,460,480,500,520,540,560,580,600,620,640,660,680,700,720,740,760,780,800,820,840,860,880,900,920,940,960,980,1000,1020,1040,1060,1080,1100,1120,1140,1160,1180,1200,1220,1240,1260,1280,1300,1320,1340,1360,1380,1400,1420,1440],
            "grid": true,
            "gridColor": "#e6e6e6",
            "labels": false,
            "ticks": false,
            "domain": false,
            "title": null
          }
        },
        "y": {
          "field": "rating", "type": "quantitative",
          "scale": {"domain": [0, 18], "nice": false},
          "axis": {
            "orient": "right",
            "values": [1,2,3,4,5,6,7,8,9,10,11,12,13,14,15,16,17,18],
            "grid": false,
            "labelFontSize": 6.5,
            "labelColor": "#666666",
            "labelPadding": 4,
            "ticks": false,
            "domain": false,
            "title": null
          }
        },
        "color": {
          "field": "canal", "type": "nominal",
          "scale": {
            "domain": ["crema", "verde", "rojo", "magenta", "Ecuavisa", "azul"],
            "range": ["#f4ec7c", "#118a11", "#ff1010", "#ff00ff", "#ffff00", "#0000e0"]
          },
          "legend": null
        }
      }
    },
    {
      "data": {"values": [{"cursor": "17:21 17:22"}]},
      "mark": {"type": "rect", "color": "#111111"},
      "encoding": {
        "x": {"datum": 1020, "type": "quantitative", "scale": {"domain": [360, 1440], "nice": false, "zero": false}, "axis": null},
        "x2": {"datum": 1068},
        "y": {"datum": 17.83, "type": "quantitative", "scale": {"domain": [0, 18], "nice": false}, "axis": null},
        "y2": {"datum": 18.15}
      }
    },
    {
      "data": {"values": [{"cursor": "17:21 17:22"}]},
      "mark": {"type": "text", "color": "white", "fontSize": 6, "baseline": "middle"},
      "encoding": {
        "x": {"datum": 1044, "type": "quantitative", "scale": {"domain": [360, 1440], "nice": false, "zero": false}, "axis": null},
        "y": {"datum": 17.99, "type": "quantitative", "scale": {"domain": [0, 18], "nice": false}, "axis": null},
        "text": {"field": "cursor"}
      }
    },
    {
      "data": {"name": "canales"},
      "mark": {"type": "rect"},
      "encoding": {
        "x": {"datum": 265, "type": "quantitative", "scale": {"domain": [360, 1440], "nice": false, "zero": false}, "axis": null},
        "x2": {"datum": 352},
        "y": {"field": "canal", "type": "nominal", "scale": {"type": "band", "domain": ["hora", "Ecuador TV", "Ecuavisa"], "range": [569, 599], "paddingInner": 0.08, "paddingOuter": 0}, "axis": null},
        "fill": {"field": "canal", "type": "nominal", "scale": {"domain": ["Ecuador TV", "Ecuavisa"], "range": ["#4b1782", "#ffff00"]}, "legend": null}
      }
    },
    {
      "data": {"name": "canales"},
      "mark": {"type": "rect"},
      "encoding": {
        "x": {"datum": 1442.6, "type": "quantitative", "scale": {"domain": [360, 1440], "nice": false, "zero": false}, "axis": null},
        "x2": {"datum": 1475},
        "y": {"field": "canal", "type": "nominal", "scale": {"type": "band", "domain": ["hora", "Ecuador TV", "Ecuavisa"], "range": [569, 599], "paddingInner": 0.08, "paddingOuter": 0}, "axis": null},
        "fill": {"field": "canal", "type": "nominal", "scale": {"domain": ["Ecuador TV", "Ecuavisa"], "range": ["#4b1782", "#ffff00"]}, "legend": null}
      }
    },
    {
      "data": {"name": "canales"},
      "transform": [{"filter": "datum.canal == 'Ecuador TV'"}],
      "mark": {"type": "text", "fontSize": 6.5, "fontWeight": "bold", "align": "center", "baseline": "middle", "color": "white"},
      "encoding": {
        "x": {"datum": 308, "type": "quantitative", "scale": {"domain": [360, 1440], "nice": false, "zero": false}, "axis": null},
        "y": {"field": "canal", "type": "nominal", "scale": {"type": "band", "domain": ["hora", "Ecuador TV", "Ecuavisa"], "range": [569, 599], "paddingInner": 0.08, "paddingOuter": 0}, "axis": null},
        "text": {"field": "etiqueta"}
      }
    },
    {
      "data": {"name": "canales"},
      "transform": [{"filter": "datum.canal == 'Ecuavisa'"}],
      "mark": {"type": "text", "fontSize": 6.5, "fontWeight": "bold", "align": "left", "baseline": "middle", "color": "#333333"},
      "encoding": {
        "x": {"datum": 273, "type": "quantitative", "scale": {"domain": [360, 1440], "nice": false, "zero": false}, "axis": null},
        "y": {"field": "canal", "type": "nominal", "scale": {"type": "band", "domain": ["hora", "Ecuador TV", "Ecuavisa"], "range": [569, 599], "paddingInner": 0.08, "paddingOuter": 0}, "axis": null},
        "text": {"field": "etiqueta"}
      }
    },
    {
      "data": {"name": "canales"},
      "mark": {"type": "text", "fontSize": 6.5, "fontWeight": "bold", "align": "left", "baseline": "middle"},
      "encoding": {
        "x": {"datum": 1451, "type": "quantitative", "scale": {"domain": [360, 1440], "nice": false, "zero": false}, "axis": null},
        "y": {"field": "canal", "type": "nominal", "scale": {"type": "band", "domain": ["hora", "Ecuador TV", "Ecuavisa"], "range": [569, 599], "paddingInner": 0.08, "paddingOuter": 0}, "axis": null},
        "text": {"field": "valor"},
        "color": {"condition": {"test": "datum.canal == 'Ecuador TV'", "value": "white"}, "value": "#333333"}
      }
    },
    {
      "data": {"values": [{"hora": "17:21"}]},
      "mark": {"type": "text", "fontSize": 6.5, "align": "left", "baseline": "middle", "color": "#555555"},
      "encoding": {
        "x": {"datum": 1446, "type": "quantitative", "scale": {"domain": [360, 1440], "nice": false, "zero": false}, "axis": null},
        "y": {"datum": "hora", "type": "nominal", "scale": {"type": "band", "domain": ["hora", "Ecuador TV", "Ecuavisa"], "range": [569, 599], "paddingInner": 0.08, "paddingOuter": 0}, "axis": null},
        "text": {"field": "hora"}
      }
    },
    {
      "data": {"name": "programas"},
      "mark": {"type": "text", "fontSize": 5.2, "align": "left", "baseline": "middle", "color": "#333333"},
      "encoding": {
        "x": {"field": "min", "type": "quantitative", "scale": {"domain": [360, 1440], "nice": false, "zero": false}, "axis": null},
        "y": {"field": "canal", "type": "nominal", "scale": {"type": "band", "domain": ["hora", "Ecuador TV", "Ecuavisa"], "range": [569, 599], "paddingInner": 0.08, "paddingOuter": 0}, "axis": null},
        "text": {"field": "texto"}
      }
    }
  ],
  "resolve": {
    "scale": {"y": "independent"},
    "axis": {"x": "independent", "y": "independent"}
  }
}
